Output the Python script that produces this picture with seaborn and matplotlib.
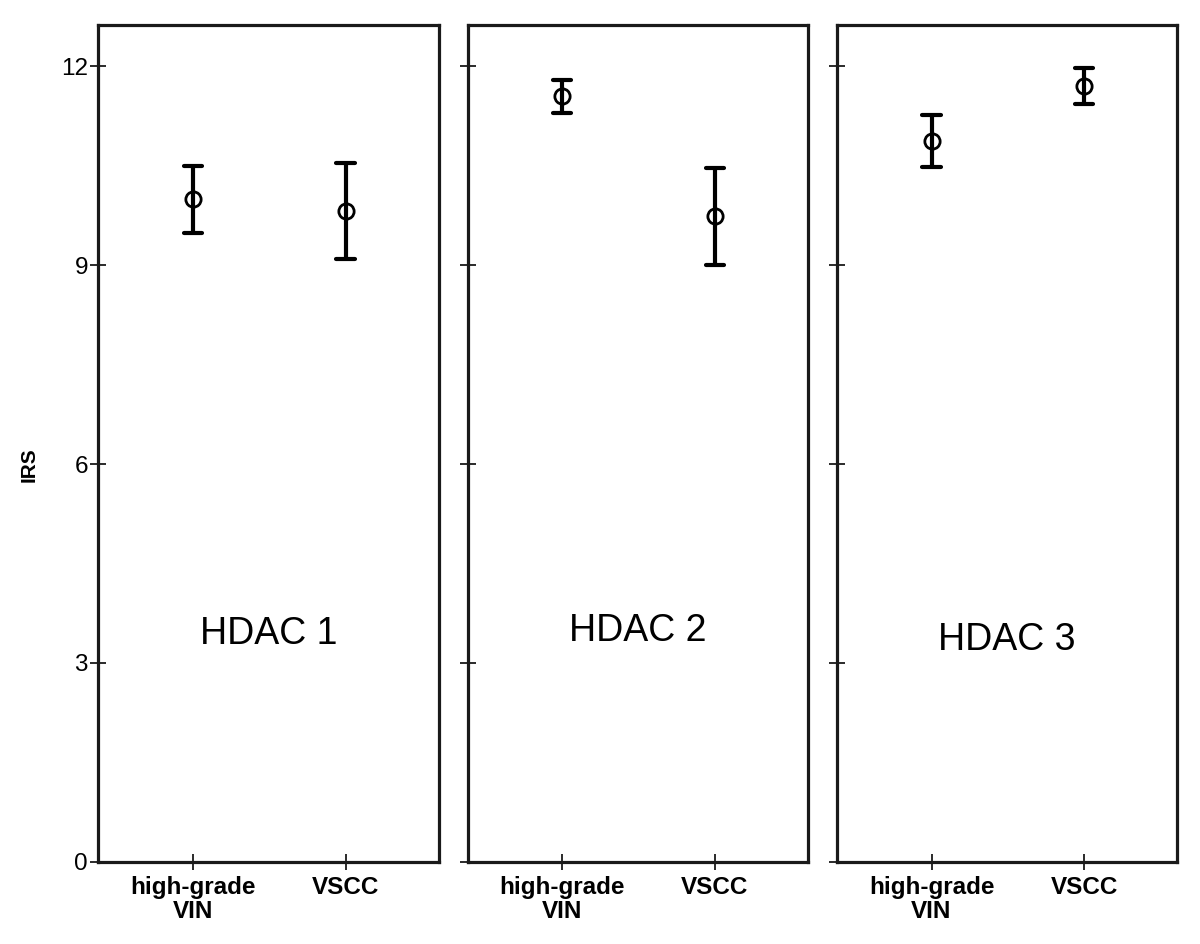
import pandas as pd
import numpy as np
import matplotlib
matplotlib.use("Agg")
import matplotlib.pyplot as plt
import seaborn as sns

# values: mean with lower / upper error bar ends
panels = ["HDAC 1", "HDAC 2", "HDAC 3"]
groups = ["high-grade\nVIN", "VSCC"]
means = [[10.0, 9.82], [11.55, 9.74], [10.88, 11.70]]
lower = [[9.49, 9.09], [11.30, 9.00], [10.48, 11.43]]
upper = [[10.50, 10.54], [11.80, 10.47], [11.27, 11.98]]
yticks = [0, 3, 6, 9, 12]
label_y = [0.272, 0.276, 0.265]

sns.set_theme(style="ticks")
plt.rcParams["font.family"] = ["Liberation Sans", "DejaVu Sans"]
plt.rcParams["text.color"] = "black"
plt.rcParams["xtick.color"] = "black"
plt.rcParams["ytick.color"] = "black"
plt.rcParams["axes.labelcolor"] = "black"

# long table: three rows per group, so median = mean and min/max = bar ends
rows = []
for p, name in enumerate(panels):
    for g, grp in enumerate(groups):
        for v in (lower[p][g], means[p][g], upper[p][g]):
            rows.append({"panel": name, "group": grp, "IRS": v})
df = pd.DataFrame(rows)

fig, axes = plt.subplots(1, 3, figsize=(12, 9.44), dpi=100, sharey=True)
fig.subplots_adjust(left=0.082, right=0.981, top=0.974, bottom=0.087, wspace=0.085)

for i, (ax, name) in enumerate(zip(axes, panels)):
    sub = df[df["panel"] == name]
    sns.pointplot(data=sub, x="group", y="IRS", order=groups, ax=ax,
                  estimator=np.median, errorbar=lambda v: (v.min(), v.max()),
                  color="black", linestyle="none", markers="o", capsize=0.12,
                  err_kws={"linewidth": 3}, markersize=11,
                  markerfacecolor="none", markeredgewidth=2)

    ax.set_ylim(0, 12.63)
    ax.set_xlim(-0.62, 1.61)
    ax.set_yticks(yticks)
    ax.set_xlabel("")
    for s in ax.spines.values():
        s.set_visible(True)
        s.set_linewidth(2.3)
        s.set_color("#1a1a1a")
    ax.tick_params(axis="both", direction="inout", length=11, width=1.3, color="#1a1a1a")
    ax.tick_params(axis="x", labelsize=17.5, pad=5)
    ax.tick_params(axis="y", labelsize=17.5, pad=2)
    for lab in ax.get_xticklabels():
        lab.set_fontweight("bold")
        lab.set_linespacing(1.05)
    ax.text(0.5, label_y[i], name, transform=ax.transAxes, ha="center", va="center",
            fontsize=27)
    if i == 0:
        ax.set_ylabel("IRS", fontsize=15, fontweight="bold")
        ax.yaxis.set_label_coords(-0.175, 0.474)
    else:
        ax.set_ylabel("")
        ax.tick_params(axis="y", labelleft=False)

fig.savefig("out.png", dpi=100)
